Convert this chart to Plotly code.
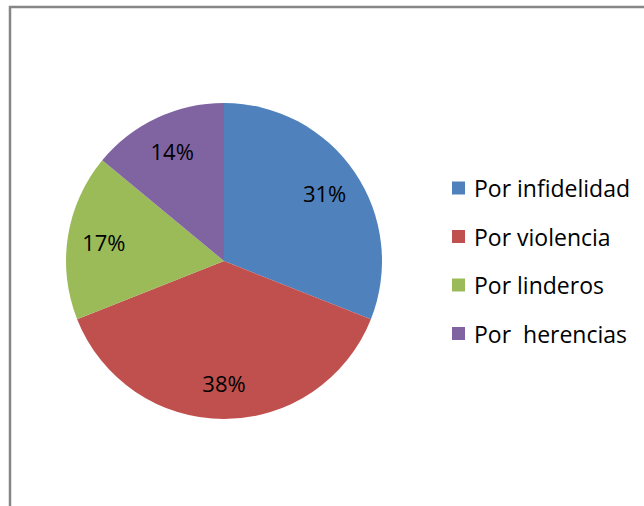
import plotly.graph_objects as go

labels = ["Por infidelidad", "Por violencia", "Por linderos", "Por  herencias"]
values = [31, 38, 17, 14]
colors = ["#4F81BD", "#C0504D", "#9BBB59", "#8064A2"]

W, H = 644, 506
FONT = "Open Sans"

cx, cy, R = 224, 261, 158
dom = dict(x=[(cx - R) / W, (cx + R) / W], y=[(H - cy - R) / H, (H - cy + R) / H])

fig = go.Figure()
fig.add_trace(go.Pie(
    labels=labels, values=values, sort=False, direction="clockwise", rotation=0,
    marker=dict(colors=colors, line=dict(width=0)),
    textinfo="none", showlegend=False, hoverinfo="label+percent", domain=dom,
))
fig.add_trace(go.Pie(
    labels=labels, values=values, sort=False, direction="clockwise", rotation=0,
    hole=0.54,
    marker=dict(colors=["rgba(0,0,0,0)"] * len(values), line=dict(width=0)),
    texttemplate="%{value}%", textposition="inside", insidetextorientation="horizontal",
    textfont=dict(family=FONT, size=22, color="black"),
    showlegend=False, hoverinfo="skip", domain=dom,
))

shapes = [dict(type="rect", xref="paper", yref="paper",
               x0=10 / W, x1=1.02, y0=-0.02, y1=1 - 7 / H,
               line=dict(color="#868686", width=2.5), fillcolor="rgba(0,0,0,0)")]
annotations = []
ly0, lstep = 188, 48.5
for i, (lab, col) in enumerate(zip(labels, colors)):
    yc = ly0 + i * lstep
    shapes.append(dict(type="rect", xref="paper", yref="paper",
                       x0=452 / W, x1=465 / W,
                       y0=1 - (yc + 6.5) / H, y1=1 - (yc - 6.5) / H,
                       fillcolor=col, line=dict(width=0)))
    annotations.append(dict(xref="paper", yref="paper", x=472 / W, y=1 - yc / H,
                            xanchor="left", yanchor="middle", showarrow=False,
                            text=lab.replace("  ", "&nbsp; "),
                            font=dict(family=FONT, size=23, color="black")))

fig.update_layout(width=W, height=H, margin=dict(l=0, r=0, t=0, b=0),
                  paper_bgcolor="white", plot_bgcolor="white",
                  shapes=shapes, annotations=annotations)
fig.write_html("out.html", config=dict(displayModeBar=False),
               post_script="document.body.style.margin='0';document.body.style.overflow='hidden';")
